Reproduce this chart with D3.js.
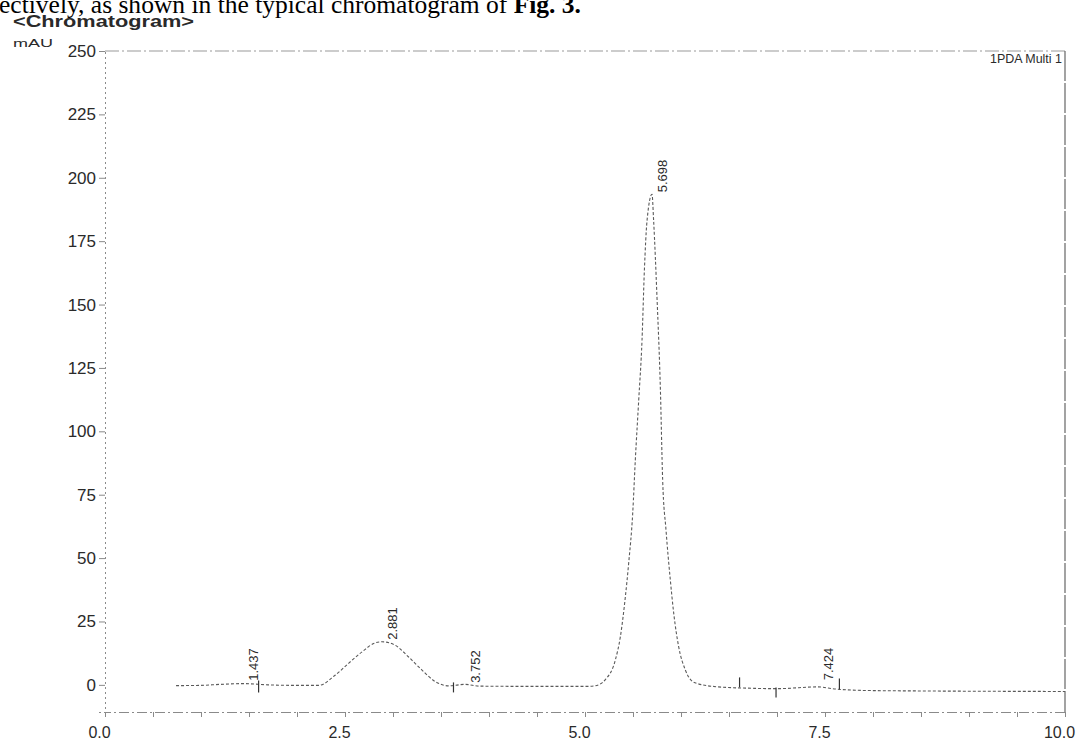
<!DOCTYPE html>
<html>
<head>
<meta charset="utf-8">
<script src="https://cdn.jsdelivr.net/npm/d3@7"></script>
<style>
  html, body { margin: 0; padding: 0; background: #fff; }
  svg { display: block; }
</style>
</head>
<body>
<svg id="chart" width="1076" height="751"></svg>
<script>
// ---- data ----
const traceTimes = [0.74, 1.0, 1.2, 1.437, 1.7, 2.0, 2.226, 2.40, 2.54, 2.68, 2.81, 2.885, 3.02, 3.16, 3.30, 3.44, 3.58, 3.752, 3.9, 4.5, 5.0, 5.10, 5.21, 5.316, 5.368, 5.42, 5.455, 5.497, 5.524, 5.559, 5.594, 5.618, 5.646, 5.698, 5.715, 5.75, 5.785, 5.809, 5.844, 5.889, 5.924, 5.976, 6.045, 6.146, 6.39, 6.7, 7.0, 7.424, 7.6, 7.9, 8.5, 9.0, 10.0];
const traceMAU   = [-0.3, -0.2, 0.2, 0.5, 0.0, -0.2, -0.2, 3.9, 8.6, 13.1, 16.5, 17.0, 15.7, 11.1, 5.9, 1.3, -0.4, 0.2, -0.5, -0.6, -0.6, -0.4, 2.0, 9.8, 18.9, 34.6, 48.0, 67.7, 88.6, 112, 136, 163, 183, 193.5, 183, 152.8, 117, 80.7, 61, 41.3, 28.3, 15, 5.9, 0.8, -0.8, -1.3, -1.5, -0.8, -1.6, -2.2, -2.4, -2.5, -2.6];

const peakLabels = ["1.437", "2.881", "3.752", "5.698", "7.424"];
const peakTimes  = [1.437, 2.881, 3.752, 5.698, 7.424];
const peakHeights = [0.8, 17.0, 0.0, 193.5, 1.0];

const markerTimes = [1.60, 3.63, 6.61, 6.99, 7.65];
const markerUp    = [7, 5, 10, 0, 9];
const markerDown  = [5, 5, 0, 10, 2];

const xTicks = [0, 2.5, 5.0, 7.5, 10.0];
const xTickLabels = ["0.0", "2.5", "5.0", "7.5", "10.0"];
const xMinorTicks = [0, 0.5, 1, 1.5, 2, 2.5, 3, 3.5, 4, 4.5, 5, 5.5, 6, 6.5, 7, 7.5, 8, 8.5, 9, 9.5, 10];
const yTicks = [0, 25, 50, 75, 100, 125, 150, 175, 200, 225, 250];

const titleText = "<Chromatogram>";
const unitText = "mAU";
const legendText = "1PDA Multi 1";
const headerText = "ectively, as shown in the typical chromatogram of ";
const headerBold = "Fig. 3.";

// ---- drawing ----
const svg = d3.select("#chart");
const pLeft = 105, pRight = 1065, pTop = 51, pBottom = 712;

const x = d3.scaleLinear().domain([0, 10]).range([pLeft, pRight]);
const y = d3.scaleLinear().domain([-10.7, 250]).range([pBottom, pTop]);

const ink = "#2a2a2a";
const axisGray = "#8a8a8a";

// header sentence (from the surrounding document)
const hdr = svg.append("text")
  .attr("x", -1).attr("y", 13)
  .attr("font-family", "'Liberation Serif', 'Times New Roman', serif")
  .attr("font-size", 25).attr("fill", "#000")
  .attr("textLength", 582).attr("lengthAdjust", "spacingAndGlyphs");
hdr.append("tspan").text(headerText);
hdr.append("tspan").attr("font-weight", "bold").text(headerBold);

// chart title
svg.append("text")
  .attr("x", 13).attr("y", 27)
  .attr("font-family", "'Liberation Sans', Arial, sans-serif")
  .attr("font-size", 16).attr("font-weight", "bold").attr("fill", ink)
  .attr("textLength", 181).attr("lengthAdjust", "spacingAndGlyphs")
  .text(titleText);

svg.append("text")
  .attr("x", 13).attr("y", 47)
  .attr("font-family", "'Liberation Sans', Arial, sans-serif")
  .attr("font-size", 11).attr("fill", ink)
  .attr("textLength", 40).attr("lengthAdjust", "spacingAndGlyphs")
  .text(unitText);

// frame: top and right
svg.append("line")
  .attr("x1", pLeft).attr("x2", pRight).attr("y1", pTop).attr("y2", pTop)
  .attr("stroke", "#9a9a9a").attr("stroke-width", 1.2).attr("stroke-dasharray", "14,3,2,3");
svg.append("line")
  .attr("x1", pRight).attr("x2", pRight).attr("y1", pTop).attr("y2", pBottom)
  .attr("stroke", "#666").attr("stroke-width", 1.2).attr("stroke-dasharray", "30,2");

// legend
svg.append("text")
  .attr("x", pRight - 3).attr("y", pTop + 12)
  .attr("text-anchor", "end")
  .attr("font-family", "'Liberation Sans', Arial, sans-serif")
  .attr("font-size", 12).attr("fill", ink)
  .attr("textLength", 72).attr("lengthAdjust", "spacingAndGlyphs")
  .text(legendText);

// y axis
const yAxis = d3.axisLeft(y).tickValues(yTicks).tickSize(6).tickFormat(d3.format("d"));
const gy = svg.append("g").attr("transform", `translate(${pLeft},0)`).call(yAxis);
gy.select(".domain").attr("stroke", axisGray).attr("stroke-dasharray", "2,3");
gy.selectAll(".tick line").attr("stroke", axisGray);
gy.selectAll(".tick text")
  .attr("font-family", "'Liberation Sans', Arial, sans-serif")
  .attr("font-size", 17).attr("fill", ink).attr("x", -9);

// x axis
const xAxisMinor = d3.axisBottom(x).tickValues(xMinorTicks).tickSize(5).tickFormat("");
const gxm = svg.append("g").attr("transform", `translate(0,${pBottom})`).call(xAxisMinor);
gxm.select(".domain").attr("stroke", axisGray).attr("stroke-dasharray", "10,3,2,3");
gxm.selectAll(".tick line").attr("stroke", axisGray);

const xAxis = d3.axisBottom(x).tickValues(xTicks).tickSize(5)
  .tickFormat((d, i) => xTickLabels[i]);
const gx = svg.append("g").attr("transform", `translate(0,${pBottom})`).call(xAxis);
gx.select(".domain").remove();
gx.selectAll(".tick line").attr("stroke", axisGray);
gx.selectAll(".tick text")
  .attr("font-family", "'Liberation Sans', Arial, sans-serif")
  .attr("font-size", 16).attr("fill", ink).attr("dy", "1.15em")
  .attr("x", -6);

// trace
const pts = traceTimes.map((t, i) => [t, traceMAU[i]]);
const line = d3.line().x(d => x(d[0])).y(d => y(d[1])).curve(d3.curveMonotoneX);
svg.append("path")
  .datum(pts)
  .attr("d", line)
  .attr("fill", "none")
  .attr("stroke", "#5a5a5a")
  .attr("stroke-width", 1.1)
  .attr("stroke-dasharray", "3,2");

// integration markers
svg.selectAll(".marker")
  .data(markerTimes)
  .join("line")
  .attr("class", "marker")
  .attr("x1", d => x(d)).attr("x2", d => x(d))
  .attr("y1", (d, i) => y(-1) - markerUp[i])
  .attr("y2", (d, i) => y(-1) + markerDown[i])
  .attr("stroke", "#333").attr("stroke-width", 1.2);

// peak labels
svg.selectAll(".plabel")
  .data(peakLabels)
  .join("text")
  .attr("class", "plabel")
  .attr("transform", (d, i) => `translate(${x(peakTimes[i]) + 15},${y(peakHeights[i]) - 2}) rotate(-90)`)
  .attr("font-family", "'Liberation Sans', Arial, sans-serif")
  .attr("font-size", 13).attr("fill", ink)
  .text(d => d);
</script>
</body>
</html>
